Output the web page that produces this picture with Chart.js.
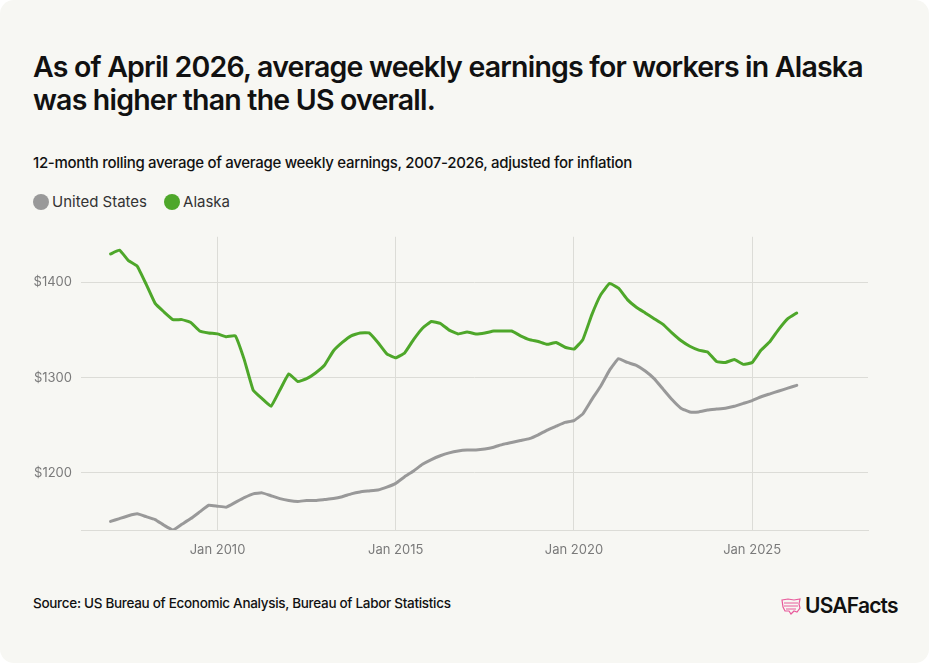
<!DOCTYPE html>
<html>
<head>
<meta charset="utf-8">
<script src="https://cdn.jsdelivr.net/npm/chart.js@4.4.1/dist/chart.umd.min.js"></script>
<style>
  html, body { margin: 0; padding: 0; background: #ffffff; }
  #card { position: relative; width: 929px; height: 663px; background: #f7f7f3; border-radius: 14px; overflow: hidden; font-family: Inter, "Noto Sans", sans-serif; }
  #title { position: absolute; left: 33px; top: 50px; width: 880px; font-size: 28.5px; line-height: 33px; font-weight: 600; color: #111; letter-spacing: -0.8px; }
  #subtitle { position: absolute; left: 33px; top: 153px; font-size: 15px; font-weight: 500; color: #111; letter-spacing: -0.3px; }
  #legend { position: absolute; left: 33px; top: 192px; display: flex; align-items: center; font-size: 15px; color: #333; }
  .dot { width: 16px; height: 16px; border-radius: 50%; display: inline-block; margin-right: 3px; }
  .item { display: flex; align-items: center; margin-right: 17px; }
  #chartbox { position: absolute; left: 0; top: 220px; width: 929px; height: 350px; }
  #source { position: absolute; left: 33px; top: 595px; font-size: 13.5px; font-weight: 500; color: #111; letter-spacing: -0.3px; }
  #logo { position: absolute; left: 780px; top: 593px; display: flex; align-items: center; font-size: 21px; font-weight: 600; color: #111; letter-spacing: -0.8px; }
</style>
</head>
<body>
<div id="card">
  <div id="title">As of April 2026, average weekly earnings for workers in Alaska<br>was higher than the US overall.</div>
  <div id="subtitle">12-month rolling average of average weekly earnings, 2007-2026, adjusted for inflation</div>
  <div id="legend">
    <span class="item"><span class="dot" style="background:#999999"></span>United States</span>
    <span class="item"><span class="dot" style="background:#4ea72a"></span>Alaska</span>
  </div>
  <div id="chartbox"><canvas id="c" width="929" height="350"></canvas></div>
  <div id="source">Source: US Bureau of Economic Analysis, Bureau of Labor Statistics</div>
  <div id="logo">
    <svg width="22" height="20" viewBox="0 0 22 20" style="margin-right:3px">
      <path d="M2 4 L8 3 L14 4 L20 3 L19 8 L20 12 L17 16 L14 15 L11 18 L9 15 L5 15 L3 11 Z" fill="none" stroke="#e85a9b" stroke-width="1.2"/>
      <path d="M4 7 L18 7 M4 10 L18 10 M6 13 L16 13" fill="none" stroke="#e85a9b" stroke-width="1"/>
    </svg>USAFacts</div>
</div>
<script>
const dates = [
  "2007-01","2007-04","2007-07","2007-10",
  "2008-01","2008-04","2008-07","2008-10",
  "2009-01","2009-04","2009-07","2009-10",
  "2010-01","2010-04","2010-07","2010-10",
  "2011-01","2011-04","2011-07","2011-10",
  "2012-01","2012-04","2012-07","2012-10",
  "2013-01","2013-04","2013-07","2013-10",
  "2014-01","2014-04","2014-07","2014-10",
  "2015-01","2015-04","2015-07","2015-10",
  "2016-01","2016-04","2016-07","2016-10",
  "2017-01","2017-04","2017-07","2017-10",
  "2018-01","2018-04","2018-07","2018-10",
  "2019-01","2019-04","2019-07","2019-10",
  "2020-01","2020-04","2020-07","2020-10",
  "2021-01","2021-04","2021-07","2021-10",
  "2022-01","2022-04","2022-07","2022-10",
  "2023-01","2023-04","2023-07","2023-10",
  "2024-01","2024-04","2024-07","2024-10",
  "2025-01","2025-04","2025-07","2025-10",
  "2026-01","2026-04"
];
const unitedStates = [
  1149,1152,1155,1157, 1154,1151,1145,1140, 1146,1152,1159,1166, 1165,1164,1169,1174,
  1178,1179,1176,1173, 1171,1170,1171,1171, 1172,1173,1175,1178, 1180,1181,1182,1185,
  1189,1196,1202,1209, 1214,1218,1221,1223, 1224,1224,1225,1227, 1230,1232,1234,1236,
  1240,1245,1249,1253, 1255,1262,1277,1291, 1308,1320,1316,1313, 1307,1299,1288,1277,
  1268,1264,1264,1266, 1267,1268,1270,1273, 1276,1280,1283,1286, 1289,1292
];
const alaska = [
  1430,1434,1423,1417, 1398,1378,1369,1361, 1361,1358,1349,1347, 1346,1343,1344,1319,
  1287,1278,1270,1287, 1304,1296,1299,1305, 1313,1328,1337,1344, 1347,1347,1337,1325,
  1321,1326,1340,1352, 1359,1357,1350,1346, 1348,1346,1347,1349, 1349,1349,1344,1340,
  1338,1335,1337,1332, 1330,1340,1366,1387, 1399,1394,1382,1374, 1368,1362,1356,1347,
  1339,1333,1329,1327, 1317,1316,1319,1314, 1316,1329,1338,1351, 1362,1368
];
const xTickYears = [2010, 2015, 2020, 2025];
const yTickValues = [1200, 1300, 1400];

const toYear = d => { const [y, m] = d.split("-").map(Number); return y + (m - 1) / 12; };
const pts = arr => arr.map((v, i) => ({ x: toYear(dates[i]), y: v }));

const grid = "#dcdcd7";
new Chart(document.getElementById("c"), {
  type: "line",
  data: {
    datasets: [
      { label: "Alaska", data: pts(alaska), borderColor: "#4ea72a", borderWidth: 3, pointRadius: 0, tension: 0.1, borderJoinStyle: "round", borderCapStyle: "round" },
      { label: "United States", data: pts(unitedStates), borderColor: "#999999", borderWidth: 3, pointRadius: 0, tension: 0.1, borderJoinStyle: "round", borderCapStyle: "round" }
    ]
  },
  options: {
    responsive: false,
    animation: false,
    layout: { padding: { left: 0, right: 61, top: 13, bottom: 0 } },
    plugins: { legend: { display: false }, tooltip: { enabled: false } },
    scales: {
      x: {
        type: "linear", min: 2006.17, max: 2028.25,
        afterBuildTicks: s => { s.ticks = xTickYears.map(v => ({ value: v })); },
        afterFit: s => { s.height = 40; },
        grid: { color: grid, drawTicks: false, lineWidth: 1 },
        border: { display: true, color: grid },
        ticks: { padding: 12, color: "#7a7a7a", font: { family: "Inter", size: 13 }, maxRotation: 0, callback: v => "Jan " + v }
      },
      y: {
        min: 1140, max: 1448,
        afterBuildTicks: s => { s.ticks = yTickValues.map(v => ({ value: v })); },
        afterFit: s => { s.width = 81; },
        grid: { color: grid, drawTicks: false, lineWidth: 1 },
        border: { display: false },
        ticks: { padding: 9, color: "#7a7a7a", font: { family: "Inter", size: 13 }, callback: v => "$" + v }
      }
    }
  }
});
</script>
</body>
</html>
